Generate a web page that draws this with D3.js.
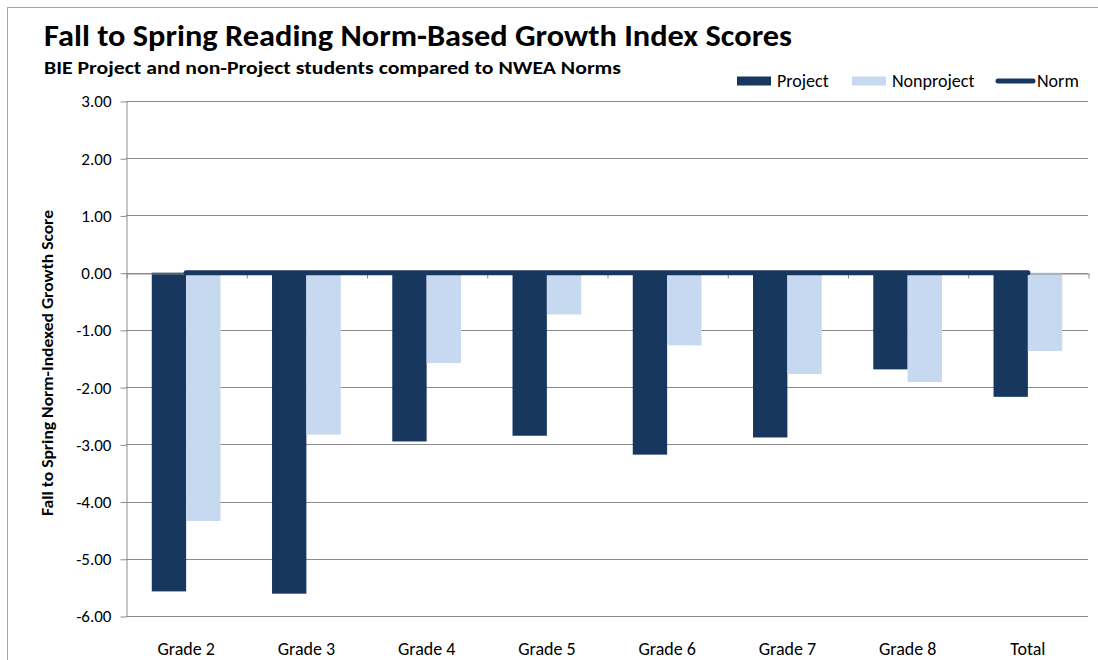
<!DOCTYPE html>
<html>
<head>
<meta charset="utf-8">
<script src="https://cdn.jsdelivr.net/npm/d3@7"></script>
<style>
  body { margin: 0; background: #fff; }
  text { font-family: Carlito, "Open Sans", sans-serif; fill: #000; }
</style>
</head>
<body>
<div id="chart"></div>
<script>
// chart data
var categories = ["Grade 2", "Grade 3", "Grade 4", "Grade 5", "Grade 6", "Grade 7", "Grade 8", "Total"];
var seriesNames = ["Project", "Nonproject"];
var projectValues = [-5.57, -5.61, -2.95, -2.85, -3.18, -2.88, -1.69, -2.17];
var nonprojectValues = [-4.34, -2.83, -1.58, -0.73, -1.27, -1.77, -1.91, -1.37];
var normValues = [0, 0, 0, 0, 0, 0, 0, 0];
var yTicks = [3, 2, 1, 0, -1, -2, -3, -4, -5, -6];

(function() {
  var width = 1098, height = 660;
  var plot = { left: 126, right: 1088, top: 101, bottom: 616 };

  var colors = { Project: "#17375E", Nonproject: "#C6D9F1", Norm: "#17375E" };

  var svg = d3.select("#chart")
    .append("svg")
    .attr("width", width)
    .attr("height", height);

  // chart area border
  svg.append("rect")
    .attr("x", 7.5).attr("y", 7.5)
    .attr("width", 1200).attr("height", 800)
    .attr("fill", "none")
    .attr("stroke", "#a6a6a6");

  var yScale = d3.scaleLinear().domain([-6, 3]).range([plot.bottom, plot.top]);
  var xScale = d3.scaleBand().domain(categories).range([plot.left, plot.right]).padding(0);
  var step = xScale.bandwidth();
  var barW = step / 3.5;
  var xInner = d3.scaleBand().domain(seriesNames)
    .range([(step - 2 * barW) / 2, (step + 2 * barW) / 2]);

  // gridlines
  svg.append("g")
    .selectAll("line")
    .data(yTicks)
    .enter()
    .append("line")
    .attr("x1", plot.left).attr("x2", plot.right)
    .attr("y1", function(d) { return Math.round(yScale(d)) + 0.5; })
    .attr("y2", function(d) { return Math.round(yScale(d)) + 0.5; })
    .attr("stroke", "#8c8c8c");

  // y axis
  var yAxis = d3.axisLeft(yScale)
    .tickValues(yTicks)
    .tickSize(6)
    .tickSizeOuter(0)
    .tickFormat(function(d) { return d.toFixed(2); });

  var yg = svg.append("g")
    .attr("transform", "translate(" + (plot.left + 0.5) + ",0.5)")
    .call(yAxis);
  yg.selectAll("path, line").attr("stroke", "#8c8c8c");
  yg.selectAll("text")
    .attr("x", -15)
    .style("font-size", "17px")
    .style("font-family", "Carlito, 'Open Sans', sans-serif")
    .attr("fill", "#000");

  // bars
  var rows = categories.map(function(c, i) {
    return { cat: c, Project: projectValues[i], Nonproject: nonprojectValues[i] };
  });

  var groups = svg.append("g")
    .selectAll("g")
    .data(rows)
    .enter()
    .append("g")
    .attr("transform", function(d) { return "translate(" + xScale(d.cat) + ",0)"; });

  groups.selectAll("rect")
    .data(function(d) { return seriesNames.map(function(s) { return { key: s, value: d[s] }; }); })
    .enter()
    .append("rect")
    .attr("x", function(d) { return xInner(d.key); })
    .attr("width", xInner.bandwidth())
    .attr("y", function(d) { return yScale(Math.max(0, d.value)); })
    .attr("height", function(d) { return Math.abs(yScale(d.value) - yScale(0)); })
    .attr("fill", function(d) { return colors[d.key]; });

  // category axis crossing at zero, ticks at category boundaries
  var idxScale = d3.scaleLinear().domain([0, categories.length]).range([plot.left, plot.right]);
  var xTickAxis = d3.axisBottom(idxScale)
    .tickValues(d3.range(categories.length + 1))
    .tickSize(5)
    .tickSizeOuter(0)
    .tickFormat("");
  var xg = svg.append("g")
    .attr("transform", "translate(0.5," + (Math.round(yScale(0)) + 0.5) + ")")
    .call(xTickAxis);
  xg.selectAll("path, line").attr("stroke", "#8c8c8c");

  // category labels at the bottom
  var xLabelAxis = d3.axisBottom(xScale).tickSize(0).tickSizeOuter(0);
  var xl = svg.append("g")
    .attr("transform", "translate(0," + (plot.bottom + 23) + ")")
    .call(xLabelAxis);
  xl.select(".domain").remove();
  xl.selectAll("text")
    .style("font-size", "18px")
    .style("font-family", "Carlito, 'Open Sans', sans-serif")
    .attr("fill", "#000");

  // norm line
  var normLine = d3.line()
    .x(function(d, i) { return xScale(categories[i]) + step / 2; })
    .y(function(d) { return yScale(d); });

  svg.append("path")
    .datum(normValues)
    .attr("d", normLine)
    .attr("fill", "none")
    .attr("stroke", colors.Norm)
    .attr("stroke-width", 5)
    .attr("stroke-linecap", "round");

  // titles
  svg.append("text")
    .attr("x", 44).attr("y", 46)
    .attr("textLength", 748)
    .attr("lengthAdjust", "spacingAndGlyphs")
    .style("font-size", "30px")
    .style("font-weight", "bold")
    .text("Fall to Spring Reading Norm-Based Growth Index Scores");

  svg.append("text")
    .attr("x", 44).attr("y", 74)
    .attr("textLength", 577)
    .attr("lengthAdjust", "spacingAndGlyphs")
    .style("font-size", "18px")
    .style("font-weight", "bold")
    .text("BIE Project and non-Project students compared to NWEA Norms");

  svg.append("text")
    .attr("transform", "translate(53," + ((210 + 516) / 2) + ") rotate(-90)")
    .attr("text-anchor", "middle")
    .attr("textLength", 306)
    .attr("lengthAdjust", "spacingAndGlyphs")
    .style("font-size", "16px")
    .style("font-weight", "bold")
    .text("Fall to Spring Norm-Indexed Growth Score");

  // legend
  var legend = svg.append("g");
  var legendItems = [
    { key: "Project", x: 737, tx: 777, type: "rect" },
    { key: "Nonproject", x: 852, tx: 892, type: "rect" },
    { key: "Norm", x: 998, tx: 1037, type: "line" }
  ];
  legendItems.forEach(function(item) {
    if (item.type == "rect") {
      legend.append("rect")
        .attr("x", item.x).attr("y", 76.5)
        .attr("width", 34).attr("height", 9)
        .attr("fill", colors[item.key]);
    } else {
      legend.append("line")
        .attr("x1", item.x).attr("x2", item.x + 35)
        .attr("y1", 81).attr("y2", 81)
        .attr("stroke", colors[item.key])
        .attr("stroke-width", 5)
        .attr("stroke-linecap", "round");
    }
    legend.append("text")
      .attr("x", item.tx).attr("y", 87)
      .style("font-size", "18px")
      .text(item.key);
  });
})();
</script>
</body>
</html>
